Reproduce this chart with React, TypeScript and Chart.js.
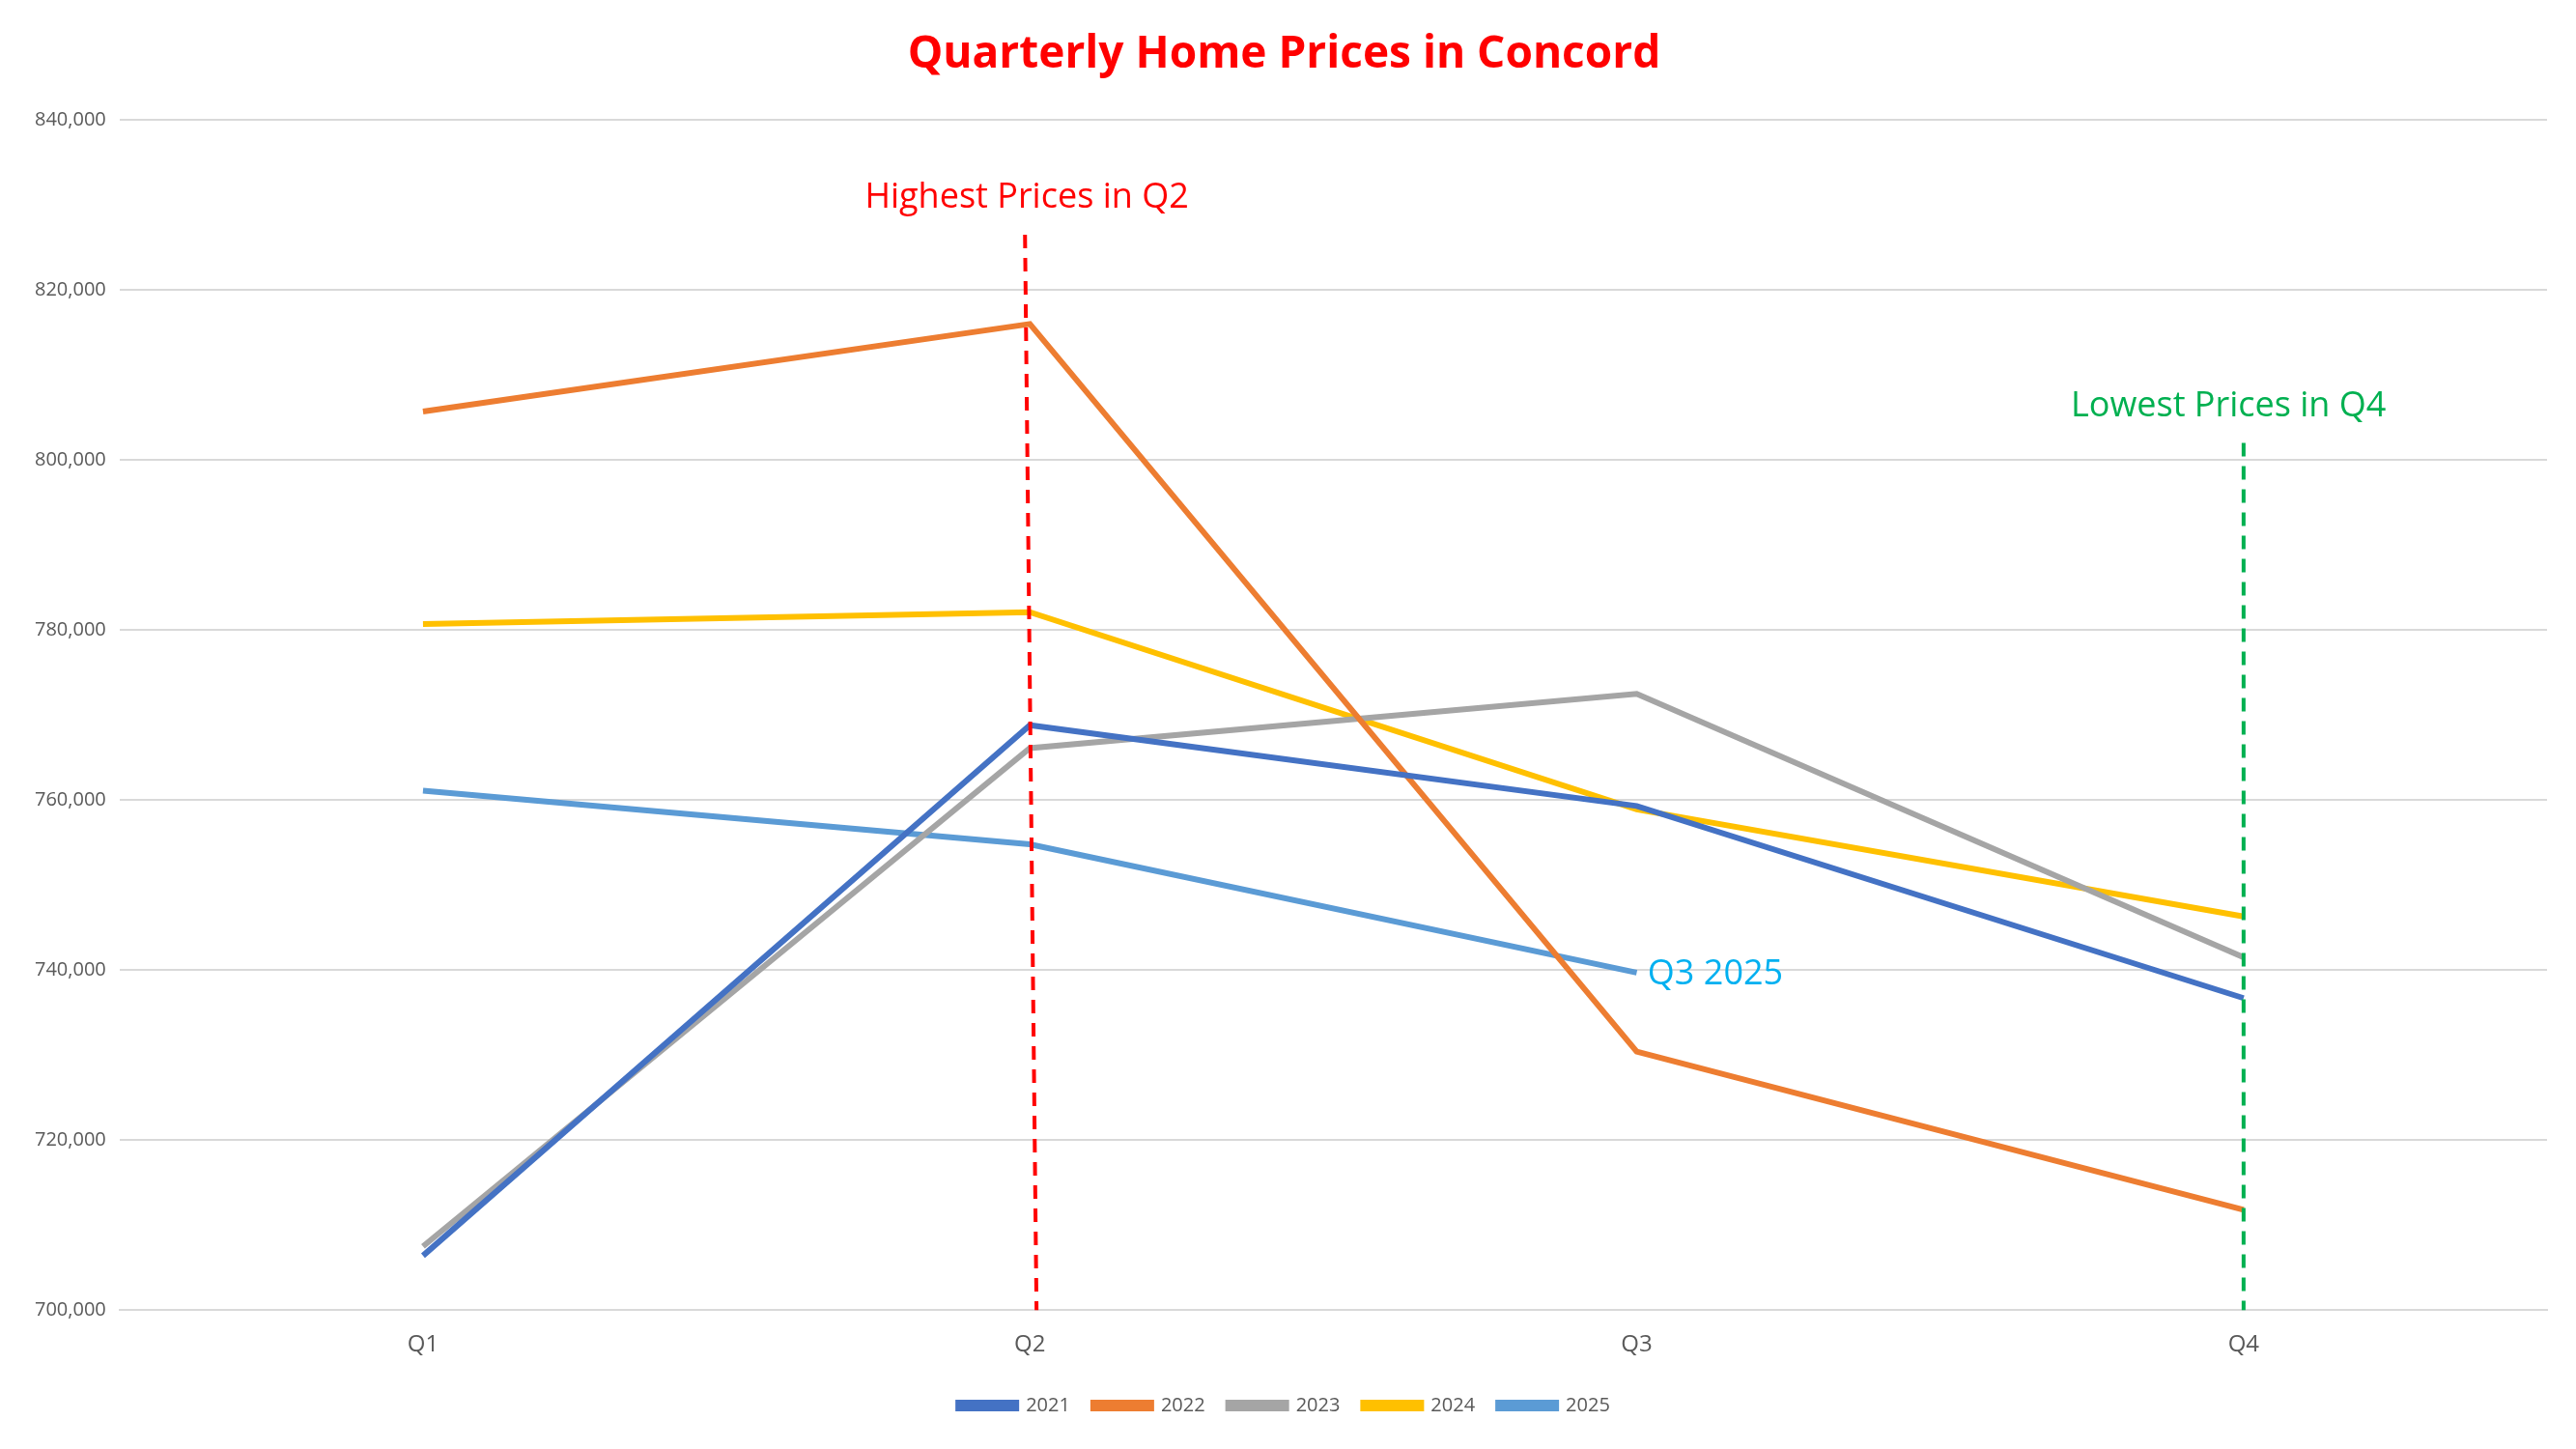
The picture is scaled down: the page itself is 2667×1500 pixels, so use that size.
import React, { useEffect, useRef } from "react";
import { Chart, registerables } from "chart.js";
Chart.register(...registerables);

const quarters = ["Q1", "Q2", "Q3", "Q4"];
const years = ["2021", "2022", "2023", "2024", "2025"];
const colors = ["#4472C4", "#ED7D31", "#A5A5A5", "#FFC000", "#5B9BD5"];
const v2021 = [706400, 768800, 759300, 736700];
const v2022 = [805700, 816000, 730400, 711800];
const v2023 = [707500, 766100, 772500, 741500];
const v2024 = [780700, 782100, 758900, 746300];
const v2025 = [761100, 754800, 739700, null];
const series = [v2021, v2022, v2023, v2024, v2025];

const FONT = "'Open Sans', 'Noto Sans', sans-serif";

const annotations = {
  id: "annots",
  afterDatasetsDraw(chart: any) {
    const { ctx, scales } = chart;
    const x = scales.x, y = scales.y;
    ctx.save();
    ctx.lineWidth = 4;
    ctx.setLineDash([14, 10]);
    ctx.strokeStyle = "#FF0000";
    ctx.beginPath();
    ctx.moveTo(x.getPixelForValue(0.992), y.getPixelForValue(826500));
    ctx.lineTo(x.getPixelForValue(1.011), y.getPixelForValue(700000));
    ctx.stroke();
    ctx.strokeStyle = "#00B050";
    ctx.beginPath();
    ctx.moveTo(x.getPixelForValue(3), y.getPixelForValue(802000));
    ctx.lineTo(x.getPixelForValue(3), y.getPixelForValue(700000));
    ctx.stroke();
    ctx.setLineDash([]);
    ctx.font = `36px ${FONT}`;
    ctx.textBaseline = "middle";
    ctx.textAlign = "center";
    ctx.fillStyle = "#FF0000";
    ctx.fillText("Highest Prices in Q2", x.getPixelForValue(0.995), y.getPixelForValue(830800));
    ctx.fillStyle = "#00B050";
    ctx.fillText("Lowest Prices in Q4", x.getPixelForValue(2.975), y.getPixelForValue(806300));
    ctx.textAlign = "left";
    ctx.fillStyle = "#00B0F0";
    ctx.fillText("Q3 2025", x.getPixelForValue(2.018), y.getPixelForValue(739500));
    ctx.restore();
  },
};

export default function App() {
  const ref = useRef<HTMLCanvasElement>(null);
  useEffect(() => {
    const chart = new Chart(ref.current!, {
      type: "line",
      data: {
        labels: quarters,
        datasets: years.map((yr, i) => ({
          label: yr,
          data: series[i],
          borderColor: colors[i],
          backgroundColor: colors[i],
          borderWidth: 6,
          pointRadius: 0,
          tension: 0,
        })),
      },
      options: {
        animation: false,
        responsive: true,
        maintainAspectRatio: false,
        layout: { padding: { left: 22, right: 30, top: 24, bottom: 25 } },
        plugins: {
          title: {
            display: true,
            text: "Quarterly Home Prices in Concord",
            color: "#FF0000",
            font: { family: FONT, size: 46, weight: "bold" },
            padding: { top: 5, bottom: 40 },
          },
          legend: {
            position: "bottom",
            labels: {
              color: "#595959",
              font: { family: FONT, size: 20 },
              boxWidth: 60,
              boxHeight: 6,
              padding: 24,
            },
          },
          tooltip: { enabled: false },
        },
        scales: {
          x: {
            offset: true,
            grid: { display: false },
            border: { color: "#D9D9D9", width: 2 },
            ticks: { color: "#595959", font: { family: FONT, size: 24 }, padding: 14 },
          },
          y: {
            min: 700000,
            max: 840000,
            ticks: {
              stepSize: 20000,
              color: "#595959",
              font: { family: FONT, size: 20 },
              padding: 14,
              callback: (v: any) => Number(v).toLocaleString("en-US"),
            },
            grid: { color: "#D9D9D9", lineWidth: 2, drawTicks: false },
            border: { display: false },
          },
        },
      },
      plugins: [annotations],
    });
    return () => chart.destroy();
  }, []);
  return (
    <div style={{ position: "fixed", left: 0, top: 0, width: "100vw", height: "100vh", background: "#fff" }}>
      <canvas ref={ref} />
    </div>
  );
}
